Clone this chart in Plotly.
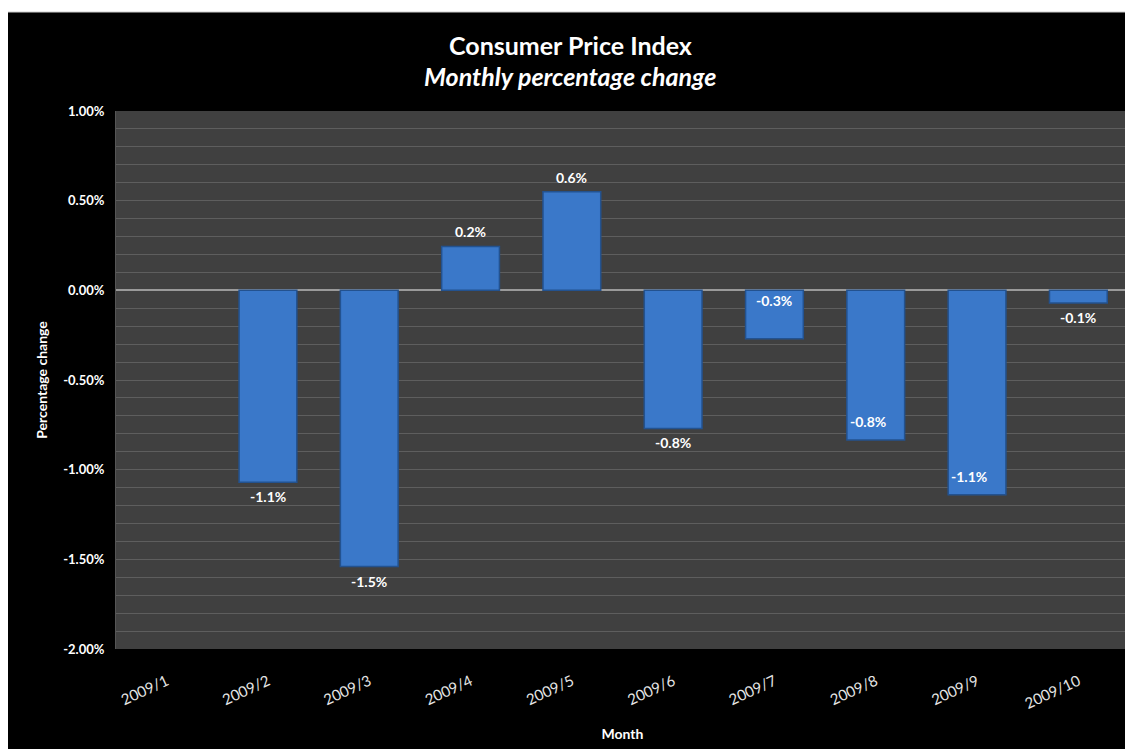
import plotly.graph_objects as go

months = ["2009/1", "2009/2", "2009/3", "2009/4", "2009/5",
          "2009/6", "2009/7", "2009/8", "2009/9", "2009/10"]
change_pct = [0.0, -1.07, -1.54, 0.245, 0.55, -0.77, -0.27, -0.835, -1.14, -0.07]
labels = ["", "-1.1%", "-1.5%", "0.2%", "0.6%", "-0.8%", "-0.3%", "-0.8%", "-1.1%", "-0.1%"]
# where each data label sits: outside end, inside base, inside end
label_pos = ["none", "out", "out", "out", "out", "out", "base", "inend", "inend", "out"]
ytick_vals = [-2.0, -1.5, -1.0, -0.5, 0.0, 0.5, 1.0]
ytick_text = ["-2.00%", "-1.50%", "-1.00%", "-0.50%", "0.00%", "0.50%", "1.00%"]

# page has an 8px body margin; figure fills the rest of the 1133x749 window
W, H = 1125, 741
L, R, T, B = 108, 4, 103, 100
PW, PH = W - L - R, H - T - B

def px_x(p):
    return (p - L) / PW

def px_y(p):
    return (H - B - p) / PH

FONT = "Lato"

fig = go.Figure()
fig.add_trace(go.Bar(
    x=months, y=[v / 100 for v in change_pct],
    marker=dict(color="#3a78c9",
                line=dict(color="#23528f", width=[1.5 if v != 0 else 0 for v in change_pct])),
    hoverinfo="x+y",
))

annotations = []
for m, v, t, pos in zip(months, change_pct, labels, label_pos):
    if pos == "none":
        continue
    y = v / 100
    a = dict(x=m, text=t, showarrow=False, xref="x", yref="y",
             font=dict(family=FONT, size=14, color="white", weight="bold"))
    if pos == "out":
        if v >= 0:
            a.update(y=y, yanchor="bottom", yshift=4)
        else:
            a.update(y=y, yanchor="top", yshift=-4)
    elif pos == "base":
        a.update(y=0, yanchor="top", yshift=0)
    elif pos == "inend":
        a.update(y=y, yanchor="bottom", yshift=8, xanchor="left", xshift=-28)
    annotations.append(a)

annotations += [
    dict(text="<b>Consumer Price Index</b>", x=px_x(562), y=px_y(37), xref="paper", yref="paper",
         xanchor="center", yanchor="middle",
         showarrow=False, font=dict(family=FONT, size=25, color="white")),
    dict(text="<b><i>Monthly percentage change</i></b>", x=px_x(562), y=px_y(68), xref="paper", yref="paper",
         xanchor="center", yanchor="middle",
         showarrow=False, font=dict(family=FONT, size=25, color="white")),
]

shapes = [
    dict(type="rect", xref="paper", yref="paper", x0=px_x(-2), x1=px_x(W + 2), y0=px_y(4), y1=px_y(-2),
         fillcolor="white", line=dict(width=0), layer="above"),
    dict(type="line", xref="paper", yref="paper", x0=px_x(0), x1=px_x(W), y0=px_y(4), y1=px_y(4),
         line=dict(color="#cfcfcf", width=1), layer="above"),
]

fig.update_layout(
    width=W, height=H,
    margin=dict(l=L, r=R, t=T, b=B),
    paper_bgcolor="black", plot_bgcolor="#404040",
    showlegend=False,
    bargap=0.43,
    annotations=annotations,
    shapes=shapes,
    xaxis=dict(
        tickangle=-25, tickfont=dict(family=FONT, size=15, color="#e6e6e6"),
        showgrid=False, showline=False, ticks="", ticklabelstandoff=20,
        title=dict(text="<b>Month</b>", font=dict(family=FONT, size=14, color="white"), standoff=18),
    ),
    yaxis=dict(
        range=[-0.02, 0.01], tickvals=[v / 100 for v in ytick_vals], ticktext=ytick_text,
        tickfont=dict(family=FONT, size=13, color="white", weight="bold"),
        showgrid=True, gridcolor="#5e5e5e", gridwidth=1,
        minor=dict(dtick=0.001, showgrid=True, gridcolor="#5e5e5e", gridwidth=1),
        zeroline=True, zerolinecolor="#9a9a9a", zerolinewidth=1.5,
        showline=True, linecolor="#555555", mirror=True,
        ticks="", ticklabelstandoff=8,
        title=dict(text="<b>Percentage change</b>", font=dict(family=FONT, size=14, color="white"), standoff=12),
    ),
)

fig.write_html("out.html", post_script="document.body.style.overflow='hidden';")
